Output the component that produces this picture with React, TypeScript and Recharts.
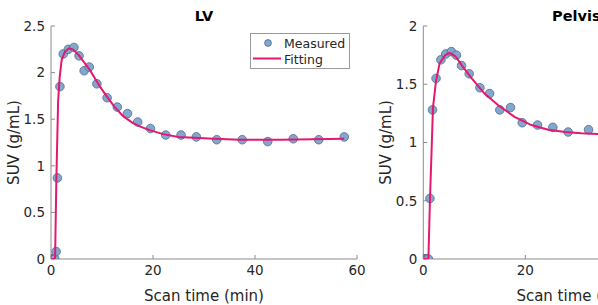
import React from "react";
import {
  Scatter,
  ScatterChart,
  XAxis,
  YAxis,
  Label,
} from "recharts";

// LV measured (time in min, SUV g/mL)
const lvTimes = [0.08, 0.25, 0.42, 0.58, 0.75, 1.0, 1.25, 1.75, 2.4, 3.4, 4.5, 5.5, 6.5, 7.5, 9, 11, 13, 15, 17, 19.5, 22.5, 25.5, 28.5, 32.5, 37.5, 42.5, 47.5, 52.5, 57.5];
const lvValues = [0, 0, 0, 0, 0, 0.08, 0.87, 1.85, 2.2, 2.25, 2.27, 2.18, 2.02, 2.06, 1.88, 1.73, 1.63, 1.56, 1.47, 1.4, 1.33, 1.33, 1.31, 1.28, 1.28, 1.26, 1.29, 1.28, 1.31];

// LV fitted curve
const lvFitTimes = [0, 0.8, 1.05, 1.4, 1.7, 2.1, 2.7, 3.5, 4.3, 5.4, 6.5, 7.6, 8.6, 9.6, 11, 12.5, 14.2, 16, 17.5, 19.5, 22, 25, 28, 32, 37, 45, 57.5];
const lvFitValues = [0, 0, 0.85, 1.7, 1.95, 2.14, 2.22, 2.26, 2.25, 2.19, 2.11, 2.03, 1.94, 1.85, 1.74, 1.63, 1.53, 1.46, 1.42, 1.38, 1.34, 1.31, 1.3, 1.29, 1.28, 1.28, 1.29];

// Pelvis measured
const pelTimes = [0.08, 0.25, 0.42, 0.58, 0.75, 1.0, 1.3, 1.8, 2.5, 3.45, 4.4, 5.5, 6.5, 7.5, 9, 11.1, 13, 15, 17.1, 19.4, 22.4, 25.4, 28.4, 32.4];
const pelValues = [0, 0, 0, 0, 0, 0, 0.52, 1.28, 1.55, 1.71, 1.76, 1.78, 1.75, 1.66, 1.59, 1.47, 1.42, 1.28, 1.3, 1.17, 1.15, 1.13, 1.09, 1.11];

// Pelvis fitted curve
const pelFitTimes = [0, 1.0, 1.3, 1.9, 2.5, 3.2, 4.3, 5.2, 6.3, 7.6, 9.5, 12, 14.7, 17.9, 21.2, 24.5, 27.8, 31, 36];
const pelFitValues = [0, 0, 0.5, 1.3, 1.53, 1.68, 1.75, 1.77, 1.74, 1.66, 1.55, 1.42, 1.32, 1.22, 1.15, 1.11, 1.09, 1.08, 1.07];

const xTicks = [0, 20, 40, 60];
const lvYTicks = [0, 0.5, 1, 1.5, 2, 2.5];
const pelYTicks = [0, 0.5, 1, 1.5, 2];

const FONT = "DejaVu Sans, sans-serif";
const TEXT = "#262626";
const AXIS = "#8c8c8c";
const MARKER_FILL = "#82a8d0";
const MARKER_EDGE = "#4f6a88";
const FIT = "#e5176f";

const pairs = (t: number[], v: number[]) => t.map((x, i) => ({ t: x, v: v[i] }));

const tickStyle = { fontSize: 13.5, fill: TEXT, fontFamily: FONT };

function Marker(props: any) {
  const { cx, cy } = props;
  if (cx == null || cy == null) return <g />;
  return <circle cx={cx} cy={cy} r={4.3} fill={MARKER_FILL} stroke={MARKER_EDGE} strokeWidth={0.8} />;
}

const NoShape = () => <g />;

interface PanelProps {
  title: string;
  measured: { t: number; v: number }[];
  fit: { t: number; v: number }[];
  yTicks: number[];
  yMax: number;
  marginLeft: number;
  labelOffset: number;
}

function Panel({ title, measured, fit, yTicks, yMax, marginLeft, labelOffset }: PanelProps) {
  return (
    <ScatterChart
      width={marginLeft + 51 + 306 + 23}
      height={305}
      margin={{ top: 26, right: 23, bottom: 0, left: marginLeft }}
      style={{ fontFamily: FONT }}
    >
      <XAxis
        type="number"
        dataKey="t"
        domain={[0, 60]}
        ticks={xTicks}
        allowDataOverflow
        height={46}
        stroke={AXIS}
        tickSize={-4}
        tickMargin={10}
        tick={tickStyle}
      >
        <Label
          value="Scan time (min)"
          position="insideBottom"
          offset={4}
          style={{ fontSize: 15, fill: TEXT, fontFamily: FONT }}
        />
      </XAxis>
      <XAxis
        xAxisId="top"
        orientation="top"
        type="number"
        dataKey="t"
        domain={[0, 60]}
        ticks={xTicks}
        allowDataOverflow
        height={0}
        stroke={AXIS}
        tickSize={-4}
        tick={false}
      />
      <YAxis
        type="number"
        dataKey="v"
        domain={[0, yMax]}
        ticks={yTicks}
        allowDataOverflow
        width={51}
        stroke={AXIS}
        tickSize={-4}
        tickMargin={10}
        tick={tickStyle}
      >
        <Label
          value="SUV (g/mL)"
          angle={-90}
          position="insideLeft"
          offset={labelOffset}
          style={{ fontSize: 15, fill: TEXT, fontFamily: FONT, textAnchor: "middle" }}
        />
      </YAxis>
      <YAxis
        yAxisId="right"
        orientation="right"
        type="number"
        dataKey="v"
        domain={[0, yMax]}
        ticks={yTicks}
        allowDataOverflow
        width={0}
        stroke={AXIS}
        tickSize={-4}
        tick={false}
      />
      <Scatter data={measured} shape={<Marker />} isAnimationActive={false} />
      <Scatter
        data={fit}
        shape={NoShape}
        line={{ stroke: FIT, strokeWidth: 2 }}
        lineType="joint"
        isAnimationActive={false}
      />
      <text
        x={marginLeft + 51 + 153}
        y={17}
        textAnchor="middle"
        dominantBaseline="middle"
        fontSize={14.5}
        fontWeight="bold"
        fill="#000"
        fontFamily={FONT}
      >
        {title}
      </text>
    </ScatterChart>
  );
}

function LegendBox() {
  return (
    <div
      style={{
        position: "absolute",
        left: 250,
        top: 33,
        width: 98,
        height: 34,
        border: "1px solid #9a9a9a",
        background: "#fff",
      }}
    >
      <svg width={98} height={34} style={{ position: "absolute", left: 0, top: 0 }}>
        <circle cx={17} cy={9} r={3.4} fill={MARKER_FILL} stroke={MARKER_EDGE} strokeWidth={0.8} />
        <line x1={2} y1={24.5} x2={30} y2={24.5} stroke={FIT} strokeWidth={2} />
        <text x={33} y={9.5} dominantBaseline="central" fontSize={12.5} fill={TEXT} fontFamily={FONT}>
          Measured
        </text>
        <text x={33} y={25} dominantBaseline="central" fontSize={12.5} fill={TEXT} fontFamily={FONT}>
          Fitting
        </text>
      </svg>
    </div>
  );
}

export default function App() {
  return (
    <div
      style={{
        position: "fixed",
        left: 0,
        top: 0,
        width: 598,
        height: 305,
        overflow: "hidden",
        background: "#fff",
      }}
    >
      <div style={{ position: "absolute", left: 0, top: 0 }}>
        <Panel
          title="LV"
          measured={pairs(lvTimes, lvValues)}
          fit={pairs(lvFitTimes, lvFitValues)}
          yTicks={lvYTicks}
          yMax={2.5}
          marginLeft={0}
          labelOffset={14}
        />
      </div>
      <div style={{ position: "absolute", left: 350, top: 0 }}>
        <Panel
          title="Pelvis"
          measured={pairs(pelTimes, pelValues)}
          fit={pairs(pelFitTimes, pelFitValues)}
          yTicks={pelYTicks}
          yMax={2}
          marginLeft={22.3}
          labelOffset={13}
        />
      </div>
      <LegendBox />
    </div>
  );
}
